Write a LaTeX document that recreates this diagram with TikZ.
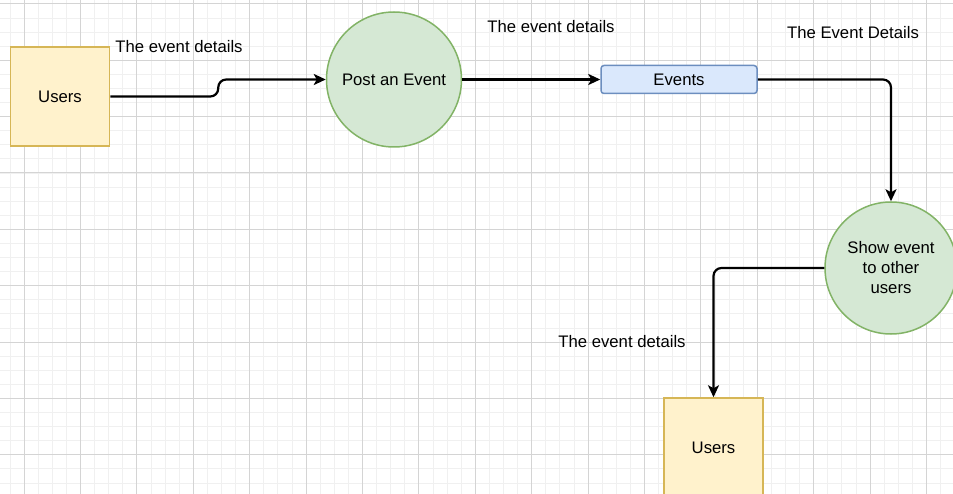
\documentclass[tikz,border=0pt]{standalone}
\usepackage{fontspec}
\setmainfont{Liberation Sans}
\usetikzlibrary{positioning,arrows.meta,calc}
\definecolor{UserFill}{RGB}{255,242,204}
\definecolor{UserDraw}{RGB}{214,182,86}
\definecolor{ProcFill}{RGB}{213,232,212}
\definecolor{ProcDraw}{RGB}{130,179,102}
\definecolor{StoreFill}{RGB}{218,232,252}
\definecolor{StoreDraw}{RGB}{108,142,191}
\definecolor{GridMajor}{RGB}{212,212,212}
\definecolor{GridMinor}{RGB}{240,240,240}
\tikzset{
  flow/.style={-{Stealth[length=12pt,width=11pt,inset=3pt]},line width=2.2pt,draw=black,rounded corners=8pt},
  userbox/.style={draw=UserDraw,fill=UserFill,line width=1.5pt,
    minimum width=99pt,minimum height=99pt,font=\fontsize{16.7}{20}\selectfont},
  procircle/.style={circle,draw=ProcDraw,fill=ProcFill,line width=1.5pt,inner sep=0pt,
    align=center,font=\fontsize{16.7}{20}\selectfont},
  storebox/.style={draw=StoreDraw,fill=StoreFill,line width=1.5pt,rounded corners=3pt,
    minimum width=156pt,minimum height=28pt,font=\fontsize{16.7}{20}\selectfont},
  lbl/.style={inner sep=0pt,font=\fontsize{16.7}{20}\selectfont}
}
\begin{document}
\begin{tikzpicture}[x=1pt,y=-1pt]
  \useasboundingbox (0,0) rectangle (953,494);
  \clip (0,0) rectangle (953,494);
  % grid
  \foreach \k in {-1,...,66} \draw[GridMinor,line width=0.8pt] ({24+14.1*\k},0) -- ({24+14.1*\k},494);
  \foreach \k in {0,...,35} \draw[GridMinor,line width=0.8pt] (0,{3.9+14.09*\k}) -- (953,{3.9+14.09*\k});
  \foreach \k in {0,...,16} \draw[GridMajor,line width=1pt] ({24+56.4*\k},0) -- ({24+56.4*\k},494);
  \foreach \k in {0,...,8} \draw[GridMajor,line width=1pt] (0,{3.9+56.35*\k}) -- (953,{3.9+56.35*\k});

  \node[userbox] (users) at (60,96.5) {Users};
  \node[procircle,minimum size=135pt] (post) at (394,79.5) {Post an Event};
  \node[storebox] (events) at (679,79.5) {Events};
  \node[procircle,minimum size=132pt] (show) at (891,268) {Show event\\to other\\users};
  \node[userbox] (users2) at (713.5,447.5) {Users};

  \node[lbl] (lblA) at (179,47) {The event details};
  \node[lbl] (lblB) at (551,27) {The event details};
  \node[lbl] (lblC) at (853,33) {The Event Details};
  \node[lbl] (lblD) at (622,342) {The event details};

  \draw[flow] (users.east) -- ++(108,0) |- (post.west);
  \draw[flow] (post.east) -- (events.west);
  \draw[flow] (events.east) -| (show.north);
  \draw[flow] (show.west) -| (users2.north);
\end{tikzpicture}
\end{document}
